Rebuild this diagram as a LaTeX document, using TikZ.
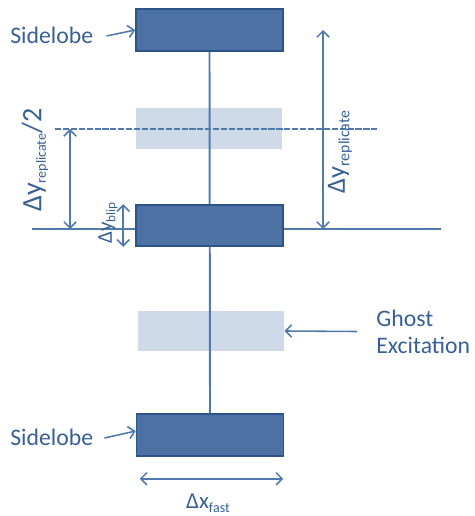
\documentclass[tikz,border=0pt]{standalone}
\usepackage{fontspec}
\setmainfont{Carlito}
\usetikzlibrary{arrows.meta}

\definecolor{lobeblue}{RGB}{76,114,163}
\definecolor{lobeedge}{RGB}{44,84,138}
\definecolor{ghostblue}{RGB}{206,218,232}
\definecolor{lineblue}{RGB}{80,122,172}
\definecolor{textblue}{RGB}{56,96,150}

\newcommand{\subtxt}[2]{\raisebox{-0.35ex}{\fontsize{#1}{#1}\selectfont #2}}

\tikzset{
  lobe/.style={draw=lobeedge, line width=0.9pt, fill=lobeblue, inner sep=0pt,
    minimum width=2.94cm, minimum height=0.84cm},
  ghost/.style={fill=ghostblue, inner sep=0pt, minimum width=2.92cm, minimum height=0.81cm},
  axis/.style={draw=lineblue, line width=1.1pt},
  dim/.style={draw=lineblue, line width=0.9pt,
    {Straight Barb[length=3.5pt,width=7pt]}-{Straight Barb[length=3.5pt,width=7pt]}},
  ptr/.style={draw=lineblue, line width=0.9pt, -{Straight Barb[length=3.5pt,width=7pt]}},
  lbl/.style={text=textblue, inner sep=0pt, font=\fontsize{13.5}{15.5}\selectfont}
}

\begin{document}
\begin{tikzpicture}[x=0.02cm, y=-0.02cm]
  \useasboundingbox (0,0) rectangle (475,516);

  % ghost replicas
  \node[ghost] (g1) at (209,128.5) {};
  \node[ghost] (g2) at (211,331) {};

  % main lobes
  \node[lobe] (top) at (209.5,30) {};
  \node[lobe] (bot) at (210,435) {};
  \draw[axis] (top.south) -- (bot.north);

  % reference lines
  \coordinate (baseL) at (32,229);
  \coordinate (baseR) at (441,229);
  \draw[axis, line width=1pt] (baseL) -- (baseR);
  \node[lobe, minimum height=0.82cm] (mid) at (209.5,225.5) {};

  \coordinate (dashL) at (55,129);
  \coordinate (dashR) at (377,129);
  \draw[draw=lineblue, line width=1pt, dash pattern=on 3.5pt off 1pt] (dashL) -- (dashR);

  % spacings
  \coordinate (halfT) at (70,129);
  \coordinate (halfB) at (70,229);
  \draw[dim] (halfT) -- (halfB);
  \node[lbl, rotate=90] (halfLbl) at (35,160)
    {\fontsize{16}{18}\selectfont Δy\subtxt{8}{replicate}/2};

  \coordinate (repT) at (323,30);
  \coordinate (repB) at (323,229);
  \draw[dim] (repT) -- (repB);
  \node[lbl, rotate=90] (repLbl) at (340,152)
    {\fontsize{15}{18}\selectfont Δy\subtxt{9}{replicate}};

  \draw[dim] ([xshift=-0.24cm]mid.north west) -- ([xshift=-0.24cm]mid.south west);
  \node[lbl, rotate=90] (blipLbl) at (108,223)
    {\fontsize{12}{14}\selectfont Δy\subtxt{7.5}{blip}};

  \draw[dim] ([xshift=0.08cm,yshift=-0.44cm]bot.south west)
    -- ([xshift=-0.02cm,yshift=-0.44cm]bot.south east);
  \node[lbl] (fastLbl) at (208,503)
    {\fontsize{13}{15}\selectfont Δx\subtxt{8}{fast}};

  % labels
  \node[lbl, anchor=west] (sideTop) at (10,35) {Sidelobe};
  \draw[ptr] ([xshift=0.26cm,yshift=-0.02cm]sideTop.east) -- (top.west);
  \node[lbl, anchor=west] (sideBot) at (10,437) {Sidelobe};
  \draw[ptr] ([xshift=0.22cm,yshift=-0.02cm]sideBot.east) -- ([yshift=0.08cm]bot.west);
  \node[lbl, anchor=west, align=left] (ghostLbl) at (376,331.5) {Ghost\\Excitation};
  \draw[ptr] ([xshift=-0.38cm]ghostLbl.west) -- (g2.east);
\end{tikzpicture}
\end{document}
